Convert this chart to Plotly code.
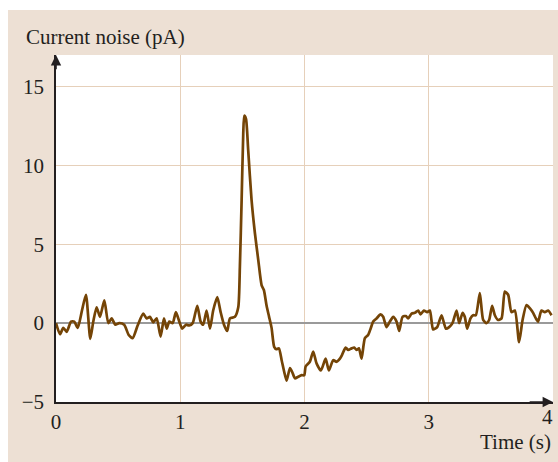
import plotly.graph_objects as go

# Current noise trace: time (s) and current (pA)
time_s = [
    0.000, 0.032, 0.059, 0.086, 0.121, 0.147, 0.175, 0.209, 0.241, 0.276,
    0.300, 0.327, 0.354, 0.389, 0.421, 0.448, 0.477, 0.509, 0.549, 0.585,
    0.617, 0.657, 0.702, 0.730, 0.756, 0.783, 0.810, 0.842, 0.869, 0.891,
    0.912, 0.939, 0.965, 0.992, 1.016, 1.046, 1.072, 1.100, 1.137, 1.164,
    1.185, 1.212, 1.239, 1.265, 1.298, 1.325, 1.352, 1.378, 1.400, 1.440,
    1.467, 1.480, 1.494, 1.507, 1.515, 1.529, 1.547, 1.574, 1.601, 1.628,
    1.655, 1.673, 1.695, 1.715, 1.735, 1.756, 1.774, 1.794, 1.816, 1.837,
    1.856, 1.883, 1.901, 1.923, 1.949, 1.977, 1.998, 2.009, 2.043, 2.070,
    2.097, 2.132, 2.170, 2.196, 2.231, 2.258, 2.285, 2.303, 2.331, 2.352,
    2.379, 2.400, 2.419, 2.438, 2.459, 2.486, 2.512, 2.532, 2.553, 2.580,
    2.612, 2.633, 2.660, 2.687, 2.714, 2.741, 2.762, 2.789, 2.816, 2.834,
    2.862, 2.888, 2.915, 2.934, 2.961, 2.987, 3.009, 3.035, 3.068, 3.103,
    3.138, 3.164, 3.191, 3.224, 3.245, 3.272, 3.290, 3.309, 3.336, 3.357,
    3.379, 3.411, 3.438, 3.465, 3.486, 3.510, 3.532, 3.558, 3.586, 3.612,
    3.639, 3.666, 3.693, 3.727, 3.755, 3.787, 3.813, 3.840, 3.862, 3.880,
    3.907, 3.934, 3.961, 3.988,
]
current_pa = [
    0.0, -0.7, -0.3, -0.55, 0.1, 0.1, -0.3, 0.8, 1.8, -1.0,
    0.1, 1.0, 0.4, 1.45, 0.0, 0.3, -0.1, 0.0, -0.1, -0.75,
    -0.95, -0.15, 0.6, 0.3, 0.4, 0.05, 0.3, -0.85, 0.3, -0.35,
    0.1, 0.0, 0.7, 0.1, -0.35, -0.1, -0.15, 0.0, 1.1, 0.1,
    -0.1, 0.8, -0.35, 0.8, 1.65, 0.7, -0.1, -0.5, 0.3, 0.4,
    1.0, 3.6, 7.8, 12.0, 13.15, 12.95, 10.95, 7.8, 5.7, 4.0,
    2.4, 2.1, 1.1, 0.4, -0.3, -1.5, -1.65, -1.6, -2.35, -3.1,
    -3.65, -2.85, -3.1, -3.5, -3.4, -3.3, -3.3, -2.75, -2.45, -1.8,
    -2.55, -3.0, -2.25, -3.0, -2.35, -2.45, -2.25, -2.0, -1.55, -1.7,
    -1.6, -1.55, -1.7, -1.6, -2.25, -0.95, -0.75, -0.35, 0.1, 0.3,
    0.55, 0.4, -0.25, 0.1, 0.4, 0.1, -0.5, 0.4, 0.45, 0.3,
    0.6, 0.65, 0.8, 0.55, 0.8, 0.7, 0.8, -0.4, -0.25, 0.5,
    -0.35, -0.25, 0.0, 0.8, 0.0, 0.65, 0.4, -0.35, 0.3, 0.5,
    0.5, 1.9, 0.2, 0.0, 0.2, 1.1, 0.5, 0.2, 0.3, 2.0,
    1.8, 0.7, 0.8, -1.2, 0.2, 1.15, 0.95, 0.65, 0.3, 0.1,
    0.8, 0.7, 0.8, 0.5,
]

x_ticks = [0, 1, 2, 3]
x_last_tick = 4
y_ticks = [-5, 0, 5, 10, 15]

BEIGE = "#EDE0D4"
GRID = "#E6D0BA"
TRACE = "#744406"
AXIS = "#231F20"
FONT = "Liberation Serif"
FS = 21

fig = go.Figure()
fig.add_trace(go.Scatter(
    x=time_s, y=current_pa, mode="lines",
    line=dict(color=TRACE, width=2.7, shape="spline", smoothing=0.6),
    hoverinfo="skip", showlegend=False,
))

fig.update_layout(
    width=558, height=462,
    margin=dict(l=56, r=5, t=55, b=60),
    paper_bgcolor=BEIGE, plot_bgcolor="white",
    font=dict(family=FONT, size=FS, color=AXIS),
    xaxis=dict(
        range=[0, 4], tickvals=x_ticks, showgrid=True, gridcolor=GRID, gridwidth=1.2,
        zeroline=False, showline=True, linecolor=AXIS, linewidth=1.6,
        ticks="", ticklabelstandoff=0, fixedrange=True,
    ),
    yaxis=dict(
        range=[-5, 17], tickvals=y_ticks, showgrid=True, gridcolor=GRID, gridwidth=1.2,
        zeroline=True, zerolinecolor="#9A9A9A", zerolinewidth=1.6,
        showline=True, linecolor=AXIS, linewidth=1.6,
        ticks="", ticklabelstandoff=6, fixedrange=True,
    ),
    shapes=[
        # thin white border strips along the top and left edges
        dict(type="rect", xref="paper", yref="paper",
             x0=-56 / 497, x1=(558 - 56) / 497, y0=(402 - 10) / 347, y1=402 / 347,
             fillcolor="white", line=dict(width=0), layer="above"),
        dict(type="rect", xref="paper", yref="paper",
             x0=-56 / 497, x1=-48 / 497, y0=-60 / 347, y1=402 / 347,
             fillcolor="white", line=dict(width=0), layer="above"),
    ],
    annotations=[
        # arrowheads on the axes
        dict(x=4, y=-5, ax=3.8, ay=-5, xref="x", yref="y", axref="x", ayref="y",
             text="", showarrow=True, arrowhead=2, arrowsize=1.3, arrowwidth=1.6,
             arrowcolor=AXIS),
        dict(x=0, y=17, ax=0, ay=16, xref="x", yref="y", axref="x", ayref="y",
             text="", showarrow=True, arrowhead=2, arrowsize=1.3, arrowwidth=1.6,
             arrowcolor=AXIS),
        # last x tick label, kept inside the figure edge
        dict(text=str(x_last_tick), x=x_last_tick, y=-5, xref="x", yref="y",
             xanchor="right", yanchor="top", yshift=-1, xshift=2,
             showarrow=False, font=dict(family=FONT, size=FS, color=AXIS)),
        dict(text="Current noise (pA)", xref="paper", yref="paper",
             x=-32 / 497, y=(402 - 37) / 347, xanchor="left", yanchor="middle",
             showarrow=False, font=dict(family=FONT, size=FS, color=AXIS)),
        dict(text="Time (s)", xref="paper", yref="paper",
             x=(553 - 56) / 497, y=(402 - 442) / 347, xanchor="right", yanchor="middle",
             showarrow=False, font=dict(family=FONT, size=FS, color=AXIS)),
    ],
)

fig.write_html("out.html")
